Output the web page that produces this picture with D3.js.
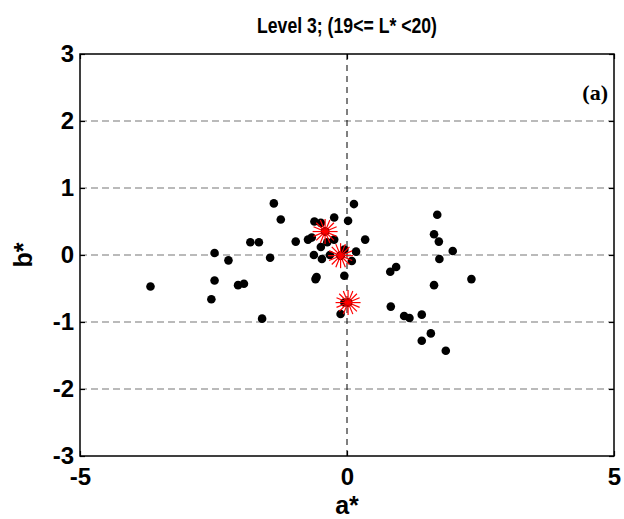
<!DOCTYPE html>
<html>
<head>
<meta charset="utf-8">
<script src="https://cdn.jsdelivr.net/npm/d3@7"></script>
<style>
  body { margin: 0; background: #fff; }
  text { font-family: "Liberation Sans", Arial, sans-serif; font-weight: bold; }
</style>
</head>
<body>
<div id="chart"></div>
<script>
// a*, b* of the measured samples (black dots)
var aVals = [-1.81, -1.65, -2.48, -2.22, -1.44, -3.68, -2.48, -2.04, -1.93, -2.54, -1.59,
             -1.37, -1.24, -0.96, 0.13, -0.61, -0.49, -0.24, 0.02, -0.73, -0.66, -0.37,
             -0.24, -0.49, 0.34, -0.05, 0.17, -0.62, -0.47, -0.32, 0.09, -0.05, -0.57,
             -0.59, -0.05, -0.12, 0.81, 0.92, 0.82, 1.07, 1.17, 1.40, 1.69, 1.63, 1.72,
             1.73, 1.63, 1.98, 2.33, 1.57, 1.40, 1.85, -0.41, -0.12, 0.02];
var bVals = [0.19, 0.19, 0.03, -0.08, -0.04, -0.47, -0.38, -0.45, -0.43, -0.66, -0.95,
             0.77, 0.53, 0.20, 0.76, 0.50, 0.48, 0.56, 0.51, 0.23, 0.26, 0.19,
             0.23, 0.12, 0.23, 0.08, 0.05, 0.00, -0.06, 0.00, -0.09, -0.31, -0.33,
             -0.36, -0.71, -0.88, -0.25, -0.18, -0.77, -0.91, -0.94, -0.89, 0.60, 0.31, 0.20,
             -0.06, -0.45, 0.06, -0.36, -1.17, -1.28, -1.43, 0.35, -0.01, -0.71];
// cluster centres (red stars)
var starA = [-0.41, -0.12, 0.02];
var starB = [0.35, -0.01, -0.71];

var xTicks = [-5, 0, 5];
var yTicks = [-3, -2, -1, 0, 1, 2, 3];
var gridY = [-2, -1, 0, 1, 2];

var margin = {top: 54, right: 10, bottom: 63, left: 80},
    width = 624 - margin.left - margin.right,
    height = 519 - margin.top - margin.bottom;

var x = d3.scaleLinear().domain([-5, 5]).range([0, width]);
var y = d3.scaleLinear().domain([-3, 3]).range([height, 0]);
var fmt = function(d) { return String(d); };

var svg = d3.select("#chart").append("svg")
    .attr("width", 624)
    .attr("height", 519)
  .append("g")
    .attr("transform", "translate(" + margin.left + "," + margin.top + ")");

// dashed grid lines
svg.selectAll(".gy")
    .data(gridY)
  .enter().append("line")
    .attr("x1", 0).attr("x2", width)
    .attr("y1", function(d) { return y(d); })
    .attr("y2", function(d) { return y(d); })
    .attr("stroke", "#777")
    .attr("stroke-width", 1.2)
    .attr("stroke-dasharray", "7,4");

svg.append("line")
    .attr("x1", x(0)).attr("x2", x(0))
    .attr("y1", 0).attr("y2", height)
    .attr("stroke", "#000")
    .attr("stroke-width", 1)
    .attr("stroke-dasharray", "6,5");

// axes with inward ticks
var xAxis = svg.append("g")
    .attr("transform", "translate(0," + height + ")")
    .call(d3.axisBottom(x).tickValues(xTicks).tickSize(-5).tickPadding(11).tickFormat(fmt));
var xAxisTop = svg.append("g")
    .call(d3.axisTop(x).tickValues(xTicks).tickSize(-5).tickFormat(""));
var yAxis = svg.append("g")
    .call(d3.axisLeft(y).tickValues(yTicks).tickSize(-5).tickPadding(6).tickFormat(fmt));
var yAxisR = svg.append("g")
    .attr("transform", "translate(" + width + ",0)")
    .call(d3.axisRight(y).tickValues(yTicks).tickSize(-5).tickFormat(""));

[xAxis, xAxisTop, yAxis, yAxisR].forEach(function(g) {
  g.attr("font-size", null).attr("font-family", null);
  g.select(".domain").remove();
  g.selectAll("line").attr("stroke", "#000").attr("stroke-width", 1.2);
  g.selectAll("text")
    .attr("fill", "#000")
    .style("font-size", "24px")
    .style("font-weight", "bold");
});
xAxis.selectAll("text").attr("dy", "0.75em");

// frame
svg.append("rect")
    .attr("width", width)
    .attr("height", height)
    .attr("fill", "none")
    .attr("stroke", "#000")
    .attr("stroke-width", 1.5);

// black dots
svg.selectAll(".dot")
    .data(d3.range(aVals.length))
  .enter().append("circle")
    .attr("class", "dot")
    .attr("cx", function(i) { return x(aVals[i]); })
    .attr("cy", function(i) { return y(bVals[i]); })
    .attr("r", 4.3)
    .attr("fill", "#000");

// red asterisks
var spokes = d3.range(8).map(function(k) { return k * Math.PI / 8; });
var stars = svg.selectAll(".star")
    .data(d3.range(starA.length))
  .enter().append("g")
    .attr("transform", function(i) {
      return "translate(" + x(starA[i]) + "," + y(starB[i]) + ")";
    });
stars.append("circle").attr("r", 4.3).attr("fill", "#000");
stars.selectAll("line")
    .data(spokes)
  .enter().append("line")
    .attr("x1", function(t) { return -12.5 * Math.cos(t); })
    .attr("y1", function(t) { return -12.5 * Math.sin(t); })
    .attr("x2", function(t) { return 12.5 * Math.cos(t); })
    .attr("y2", function(t) { return 12.5 * Math.sin(t); })
    .attr("stroke", "#f00")
    .attr("stroke-width", 1.2);

// title and labels
svg.append("text")
    .attr("x", width / 2)
    .attr("y", -21)
    .attr("text-anchor", "middle")
    .attr("textLength", 180)
    .attr("lengthAdjust", "spacingAndGlyphs")
    .style("font-size", "22px")
    .text("Level 3; (19<= L* <20)");

svg.append("text")
    .attr("x", width / 2)
    .attr("y", height + 58)
    .attr("text-anchor", "middle")
    .style("font-size", "25px")
    .text("a*");

svg.append("text")
    .attr("transform", "translate(-48," + y(0) + ") rotate(-90)")
    .attr("text-anchor", "middle")
    .style("font-size", "25px")
    .text("b*");

svg.append("text")
    .attr("x", width - 6)
    .attr("y", 46)
    .attr("text-anchor", "end")
    .style("font-family", "Liberation Serif, Times New Roman, serif")
    .style("font-size", "22px")
    .text("(a)");
</script>
</body>
</html>
